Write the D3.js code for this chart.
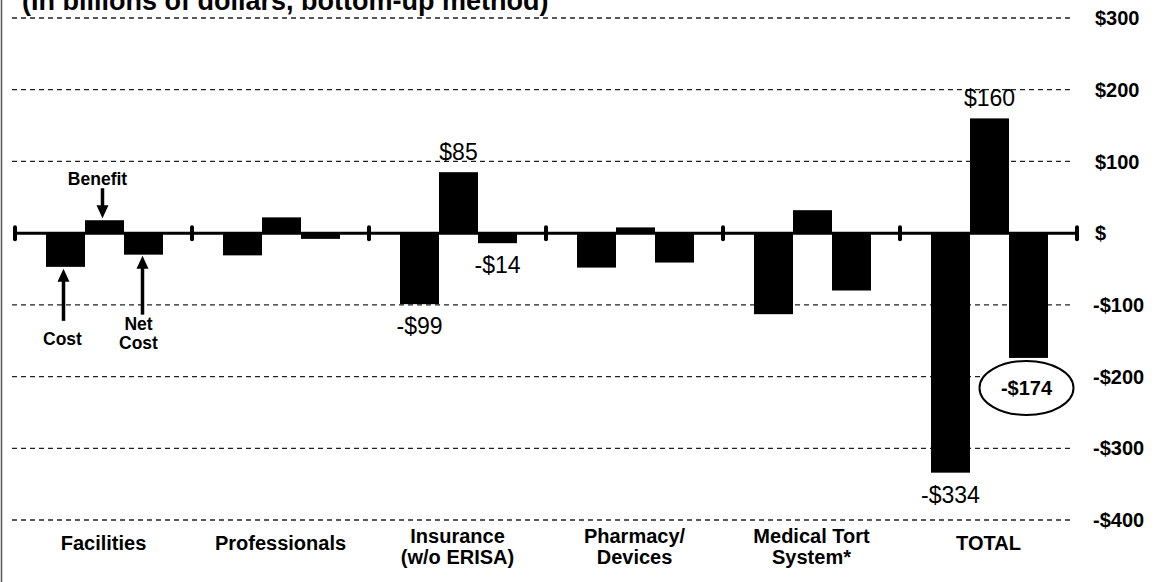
<!DOCTYPE html>
<html>
<head>
<meta charset="utf-8">
<script src="https://cdn.jsdelivr.net/npm/d3@7"></script>
<style>
  body { margin: 0; background: #fff; }
  text { font-family: "Liberation Sans", Arial, Helvetica, sans-serif; fill: #000; }
</style>
</head>
<body>
<script>
// data (billions of dollars)
const categories = ["Facilities", "Professionals", "Insurance", "Pharmacy", "Medical Tort", "TOTAL"];
const categoryLabels = [["Facilities"], ["Professionals"], ["Insurance", "(w/o ERISA)"], ["Pharmacy/", "Devices"], ["Medical Tort", "System*"], ["TOTAL"]];
const series = ["Cost", "Benefit", "Net Cost"];
const cost = [-47, -31, -99, -48, -113, -334];
const benefit = [18, 22, 85, 8, 32, 160];
const netCost = [-30, -8, -14, -41, -80, -174];
const tickValues = [300, 200, 100, 0, -100, -200, -300, -400];
const tickLabels = ["$300", "$200", "$100", "$", "-$100", "-$200", "-$300", "-$400"];
const valueLabels = [
  {cat: "Insurance", s: "Cost", text: "-$99"},
  {cat: "Insurance", s: "Benefit", text: "$85"},
  {cat: "Insurance", s: "Net Cost", text: "-$14"},
  {cat: "TOTAL", s: "Cost", text: "-$334"},
  {cat: "TOTAL", s: "Benefit", text: "$160"}
];
const circledLabel = {cat: "TOTAL", s: "Net Cost", text: "-$174"};
const title = "(In billions of dollars, bottom-up method)";

const svgWidth = 1158;
const svgHeight = 582;

const svg = d3.select("body").append("svg")
  .attr("width", svgWidth)
  .attr("height", svgHeight);

const values = {"Cost": cost, "Benefit": benefit, "Net Cost": netCost};
const rows = [];
categories.forEach(function(c, i) {
  series.forEach(function(s) {
    rows.push({cat: c, s: s, v: values[s][i]});
  });
});
const valueOf = function(cat, s) {
  return values[s][categories.indexOf(cat)];
};

const x0 = d3.scaleBand().domain(categories).range([15, 1077]);
const x1 = d3.scaleBand().domain(series).range([31, 148]);
const y = d3.scaleLinear().domain([-400, 300]).range([520, 18]);
const barX = function(cat, s) { return x0(cat) + x1(s); };
const barMid = function(cat, s) { return barX(cat, s) + x1.bandwidth() / 2; };

// scan border on the left
svg.append("line")
  .attr("x1", 1.5).attr("x2", 1.5).attr("y1", 0).attr("y2", svgHeight)
  .attr("stroke", "#555").attr("stroke-width", 1.5);

// title, cut off at the top
svg.append("text")
  .attr("x", 22).attr("y", 10)
  .style("font-size", "27px").style("font-weight", "bold")
  .text(title);

// dashed gridlines
svg.append("g").selectAll("line")
  .data(tickValues.filter(function(d) { return d !== 0; }))
  .enter().append("line")
  .attr("x1", 12).attr("x2", 1072)
  .attr("y1", function(d) { return y(d); })
  .attr("y2", function(d) { return y(d); })
  .attr("stroke", "#222")
  .attr("stroke-width", 1.3)
  .attr("stroke-dasharray", "5,4");

// axis labels on the right
svg.append("g").selectAll("text")
  .data(tickValues)
  .enter().append("text")
  .attr("x", function(d) { return d < 0 ? 1093 : 1095; })
  .attr("y", function(d) { return y(d); })
  .attr("dy", "0.36em")
  .style("font-size", "20px").style("font-weight", "bold")
  .text(function(d, i) { return tickLabels[i]; });

// bars
svg.append("g").selectAll("rect")
  .data(rows)
  .enter().append("rect")
  .attr("x", function(d) { return barX(d.cat, d.s); })
  .attr("width", x1.bandwidth())
  .attr("y", function(d) { return y(Math.max(0, d.v)); })
  .attr("height", function(d) { return Math.abs(y(d.v) - y(0)); })
  .attr("fill", "#000");

// zero axis with ticks at category boundaries
svg.append("line")
  .attr("x1", x0.range()[0]).attr("x2", x0.range()[1])
  .attr("y1", y(0)).attr("y2", y(0))
  .attr("stroke", "#000").attr("stroke-width", 3);

const bounds = categories.map(function(c) { return x0(c); }).concat([x0.range()[1]]);
svg.append("g").selectAll("rect")
  .data(bounds)
  .enter().append("rect")
  .attr("x", function(d) { return d - 2; })
  .attr("y", y(0) - 8)
  .attr("width", 4).attr("height", 16)
  .attr("rx", 2)
  .attr("fill", "#000");

// value labels
svg.append("g").selectAll("text")
  .data(valueLabels)
  .enter().append("text")
  .attr("x", function(d) { return barMid(d.cat, d.s); })
  .attr("y", function(d) {
    const v = valueOf(d.cat, d.s);
    return v >= 0 ? y(v) - 12 : y(v) + 30;
  })
  .attr("text-anchor", "middle")
  .style("font-size", "23px")
  .text(function(d) { return d.text; });

// circled total
const cx = barMid(circledLabel.cat, circledLabel.s) - 2;
const cy = y(valueOf(circledLabel.cat, circledLabel.s)) + 30;
svg.append("ellipse")
  .attr("cx", cx).attr("cy", cy)
  .attr("rx", 47).attr("ry", 27)
  .attr("fill", "#fff")
  .attr("stroke", "#000").attr("stroke-width", 2);
svg.append("text")
  .attr("x", cx).attr("y", cy)
  .attr("dy", "0.36em")
  .attr("text-anchor", "middle")
  .style("font-size", "20px").style("font-weight", "bold")
  .text(circledLabel.text);

// category labels
const catG = svg.append("g").selectAll("text")
  .data(categories)
  .enter().append("text")
  .attr("text-anchor", "middle")
  .style("font-size", "20px").style("font-weight", "bold")
  .attr("transform", function(d, i) {
    const top = categoryLabels[i].length > 1 ? 543 : 550;
    return "translate(" + (x0(d) + x0.bandwidth() / 2) + "," + top + ")";
  });
catG.selectAll("tspan")
  .data(function(d, i) { return categoryLabels[i]; })
  .enter().append("tspan")
  .attr("x", 0)
  .attr("y", function(d, i) { return i * 21; })
  .text(function(d) { return d; });

// annotation arrows for the first group
function arrow(xp, yFrom, yTo) {
  const dir = yTo > yFrom ? 1 : -1;
  svg.append("line")
    .attr("x1", xp).attr("x2", xp)
    .attr("y1", yFrom).attr("y2", yTo - dir * 10)
    .attr("stroke", "#000").attr("stroke-width", 3.5);
  svg.append("path")
    .attr("d", "M" + (xp - 6) + "," + (yTo - dir * 13) + "L" + (xp + 6) + "," + (yTo - dir * 13) + "L" + xp + "," + yTo + "Z")
    .attr("fill", "#000");
}
const first = categories[0];
const annot = svg.append("g").style("font-size", "17.5px").style("font-weight", "bold");

const bx = barMid(first, "Benefit") - 2;
arrow(bx, y(valueOf(first, "Benefit")) - 32, y(valueOf(first, "Benefit")) - 2);
annot.append("text").attr("x", bx - 5).attr("y", y(valueOf(first, "Benefit")) - 35)
  .attr("text-anchor", "middle").text("Benefit");

const kx = barMid(first, "Cost") - 2;
arrow(kx, y(valueOf(first, "Cost")) + 54, y(valueOf(first, "Cost")) + 2);
annot.append("text").attr("x", kx - 1).attr("y", y(valueOf(first, "Cost")) + 78)
  .attr("text-anchor", "middle").text("Cost");

const nx = barMid(first, "Net Cost") - 1;
arrow(nx, y(valueOf(first, "Net Cost")) + 60, y(valueOf(first, "Net Cost")) + 1);
annot.append("text").attr("x", nx - 4).attr("y", y(valueOf(first, "Net Cost")) + 75)
  .attr("text-anchor", "middle").text("Net");
annot.append("text").attr("x", nx - 4).attr("y", y(valueOf(first, "Net Cost")) + 94)
  .attr("text-anchor", "middle").text("Cost");
</script>
</body>
</html>
